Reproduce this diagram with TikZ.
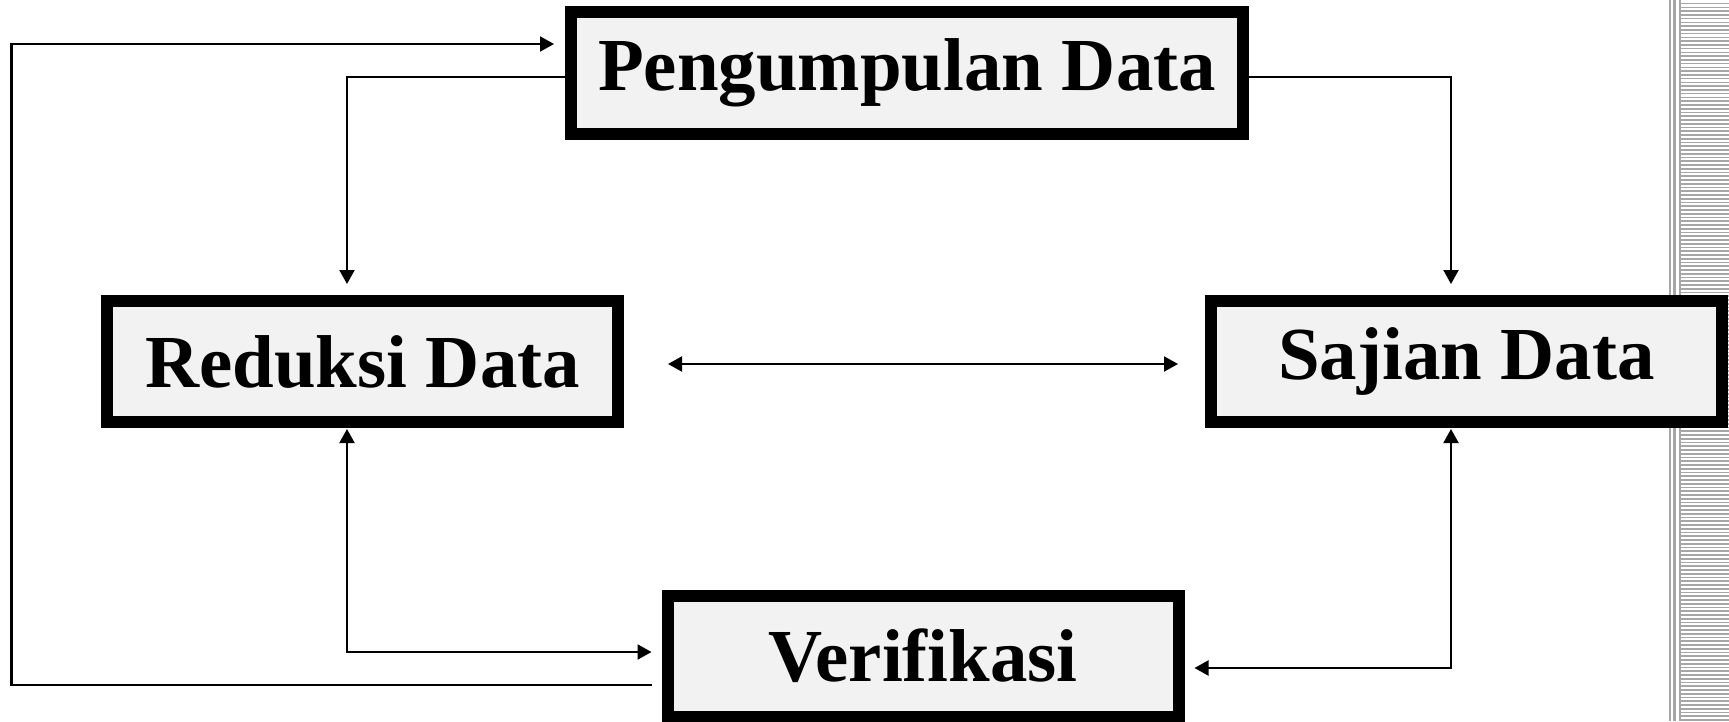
\documentclass[tikz,border=0pt]{standalone}
\usepackage{fontspec}
\setmainfont{Liberation Serif}
\usetikzlibrary{arrows.meta}
\definecolor{boxfill}{HTML}{F2F2F2}
\definecolor{stripe}{HTML}{A6A6A6}

\begin{document}
\begin{tikzpicture}[
    >={Triangle[length=0.14cm,width=0.15cm]},
    stage/.style={draw=black, line width=0.12cm, fill=boxfill, outer sep=0.06cm,
        inner sep=0pt, minimum width=5.11cm, minimum height=1.21cm,
        font=\fontsize{21.3}{25}\selectfont\bfseries},
    link/.style={line width=0.02cm}
]
\useasboundingbox (0,0) rectangle (17.29,7.21);

% striped edge on the right
\foreach \y in {0.01,0.0475,...,7.21}
    \draw[stripe, line width=0.017cm] (16.81,\y) -- (17.29,\y);
\draw[stripe, line width=0.02cm] (16.70,0) -- (16.70,7.21);
\draw[stripe, line width=0.03cm] (16.745,0) -- (16.745,7.21);
\draw[stripe, line width=0.02cm] (16.80,0) -- (16.80,7.21);

\node[stage, minimum width=6.72cm] (P) at (9.07,6.48) {Pengumpulan Data};
\node[stage] (R) at (3.625,3.595) {Reduksi Data};
\node[stage] (S) at (14.665,3.595) {Sajian Data};
\node[stage] (V) at (9.23,0.65) {Verifikasi};

\draw[link,->] ([shift={(-0.1,-0.29)}]V.west) -- ++(-6.4,0) |- ([shift={(-0.11,0.29)}]P.west);
\draw[link,->] ([yshift=-0.04cm]P.west) -| ([shift={(-0.155,0.11)}]R.north);
\draw[link,->] ([yshift=-0.04cm]P.east) -| ([shift={(-0.155,0.11)}]S.north);
\draw[link,<->] ([shift={(0.44,-0.025)}]R.east) -- ([shift={(-0.27,-0.025)}]S.west);
\draw[link,<->] ([shift={(-0.155,-0.01)}]R.south) |- ([shift={(-0.1,0.04)}]V.west);
\draw[link,<->] ([shift={(-0.155,-0.01)}]S.south) |- ([shift={(0.1,-0.12)}]V.east);
\end{tikzpicture}
\end{document}
